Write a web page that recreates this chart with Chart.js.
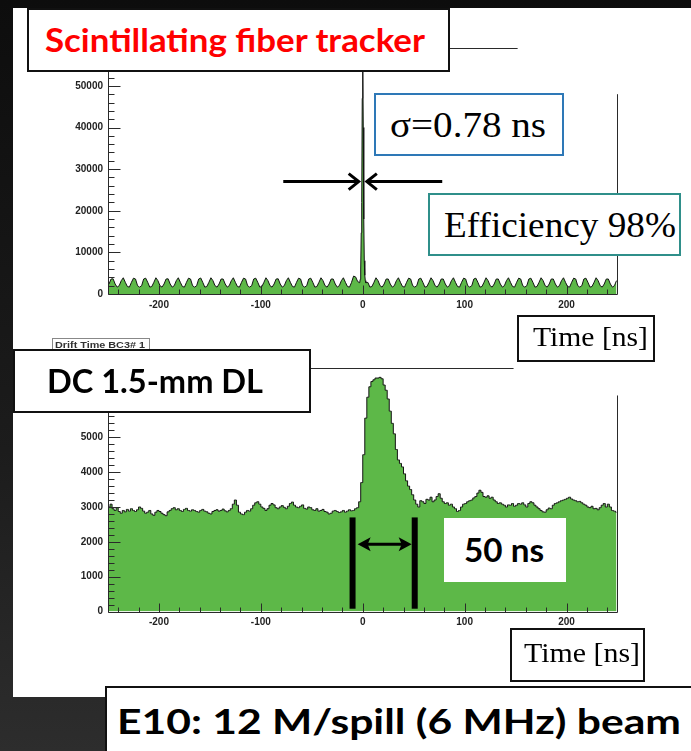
<!DOCTYPE html>
<html>
<head>
<meta charset="utf-8">
<script src="https://cdn.jsdelivr.net/npm/chart.js@4.4.1/dist/chart.umd.min.js"></script>
<style>
  html, body { margin: 0; padding: 0; }
  body {
    width: 691px; height: 751px; position: relative; overflow: hidden;
    background: linear-gradient(#0d0d0d 0%, #1c1c1c 60%, #2d2d2d 100%);
    font-family: 'Liberation Sans', sans-serif;
  }
  #panel { position: absolute; left: 13px; top: 8px; width: 678px; height: 689px; background: #fff; }
  canvas { position: absolute; }
  .box { position: absolute; background: #fff; box-sizing: border-box; }
  .txt { position: absolute; white-space: nowrap; transform-origin: 0 50%; }
</style>
</head>
<body>
<div id="panel"></div>
<canvas id="fiber" width="610" height="300" style="left:30px;top:30px;width:610px;height:300px"></canvas>
<canvas id="dc" width="610" height="300" style="left:30px;top:350px;width:610px;height:300px"></canvas>

<script>
// ---- Scintillating fiber tracker: time spectrum, 2 ns bins, first bin centre -249 ns ----
const BIN_START = -249;
const BIN_WIDTH = 2;
const fiberCounts = [
  2400,3600,3650,2400,1650,2000,3200,3900,2800,1800,
  1650,2800,3800,3600,2000,1650,2000,3600,3800,2800,
  1650,1800,2800,3900,3200,2000,1650,2400,3600,3650,
  2400,1650,2000,3200,3900,2800,1800,1650,2800,3800,
  3600,2000,1650,2000,3600,3850,2800,1650,1800,2800,
  3900,3200,2000,1650,2400,3600,3600,2400,1650,2000,
  3200,3900,2800,1800,1650,2800,3800,3600,2000,1650,
  2000,3600,3800,2800,1650,1800,2800,3900,3200,2000,
  1650,2400,3600,3650,2400,1650,2000,3200,3900,2800,
  1800,1650,2800,3800,3600,2000,1650,2000,3600,3800,
  2800,1650,1800,2800,3900,3200,2000,1650,2400,3600,
  3600,2400,1650,2000,3200,3900,2800,1800,1650,2800,
  4300,4100,3000,null,null,null,null,2800,1650,1800,   // -3..3 ns: see fine bins below
  2800,3900,3200,2000,1650,2400,3600,3600,2400,1650,
  2000,3200,3900,2800,1800,1650,2800,3800,3600,2000,
  1650,2000,3600,3800,2800,1650,1800,2800,3900,3200,
  2000,1650,2400,3600,3600,2400,1650,2000,3200,3900,
  2800,1800,1650,2800,3800,3600,2000,1650,2000,3600,
  3800,2800,1650,1800,2800,3900,3200,2000,1650,2400,
  3600,3600,2400,1650,2000,3200,3900,2800,1800,1650,
  2800,3800,3600,2000,1650,2000,3600,3800,2800,1650,
  1800,2800,3900,3200,2000,1650,2400,3600,3600,2400,
  1650,2000,3200,3900,2800,1800,1650,2800,3800,3600,
  2000,1650,2000,3600,3800,2800,1650,1800,2800,3900,
  3200,2000,1650,2400,3600,3600,2400,1650,2000,3200
];
// prompt peak around t = 0 in 0.5 ns bins
const fiberPeakTimes  = [-3, -2.5, -2, -1.5, -1, -0.5, 0, 0.5, 1, 1.5, 2, 2.5, 3];
const fiberPeakCounts = [2700, 3500, 6000, 14700, 22000, 47000, 56000, 40000, 18000, 8000, 4500, 3200, 2700];

// ---- DC 1.5-mm drift length: drift time, 2 ns bins ----
const dcCounts = [
  3000,3080,2950,2900,2980,2870,2820,2900,2860,2930,
  2880,2950,2900,2870,2920,3000,2960,2880,2820,2850,
  2900,2800,2760,2850,2900,2870,2820,2780,2750,2860,
  2900,2950,2980,2920,2950,2900,2870,2930,2960,2900,
  2880,2920,2900,2870,2850,2900,2930,2880,2860,2820,
  2800,2870,2900,2920,2880,2900,2940,2890,2860,2900,
  2950,3080,3200,3050,2850,2800,2780,2850,2900,2880,
  2950,3050,3120,3150,3080,3000,2960,2900,2950,3050,
  3100,3060,2980,2950,3000,3040,2990,2950,3020,3100,
  3140,3050,3000,2980,3020,3060,2960,2940,3000,2980,
  2920,2900,2950,2880,2900,2930,2870,2850,2800,2820,
  2880,2900,2870,2840,2860,2900,2850,2880,2920,2890,
  2900,2950,2980,3150,3700,4500,5550,6150,6450,6600,
  6650,6700,6700,6720,6680,6500,6350,6100,5750,5400,
  5100,4650,4350,4250,4150,3950,3750,3600,3500,3350,
  3200,3080,3000,3180,3150,3100,3220,3200,3280,3150,
  3200,3300,3380,3250,3150,3100,3120,3050,3080,3000,
  2950,2870,2900,3000,3080,3100,3150,3180,3200,3260,
  3300,3400,3480,3420,3300,3280,3320,3250,3280,3200,
  3150,3100,3120,3080,3050,3000,3060,3050,3100,3020,
  3050,3100,3080,3120,3060,3000,3100,3150,3120,3050,
  3000,2950,2900,2860,2850,2920,2970,2950,3050,3100,
  3120,3150,3180,3200,3220,3250,3280,3230,3200,3180,
  3150,3160,3120,3080,3050,3000,2980,3020,2950,2960,
  2920,2980,3050,3100,3000,3080,3000,2900,2880,2850
];

// axis labels
const timeTicks = [-200, -100, 0, 100, 200];
const fiberYTicks = [0, 10000, 20000, 30000, 40000, 50000];
const dcYTicks = [0, 1000, 2000, 3000, 4000, 5000];

const GREEN = '#5db848';
const OUTLINE = '#141414';
const AXIS = '#2a2a2a';

function toPoints(counts) {
  const pts = [];
  counts.forEach((c, i) => { if (c !== null) pts.push({ x: BIN_START + i * BIN_WIDTH, y: c }); });
  return pts;
}
const fiberPoints = toPoints(fiberCounts)
  .concat(fiberPeakTimes.map((t, i) => ({ x: t, y: fiberPeakCounts[i] })))
  .sort((a, b) => a.x - b.x);
const dcPoints = toPoints(dcCounts);

// ROOT-like axes: inward major/minor ticks, partial frame, annotation arrows and bars
const rootAxes = {
  id: 'rootAxes',
  afterDatasetsDraw(chart, args, o) {
    const { ctx, chartArea: a, scales: { x, y } } = chart;
    const seg = (x1, y1, x2, y2) => { ctx.beginPath(); ctx.moveTo(x1, y1); ctx.lineTo(x2, y2); ctx.stroke(); };
    ctx.save();
    ctx.strokeStyle = AXIS; ctx.lineWidth = 1;
    const L = Math.round(a.left) + 0.5, B = Math.round(a.bottom) + 0.5;
    seg(L, a.top, L, B);
    seg(L, B, a.right, B);
    // visible parts of the frame
    const T = Math.round(a.top) + 0.5, R = Math.round(a.right) - 0.5;
    seg(L, T, x.getPixelForValue(o.topTo), T);
    seg(R, y.getPixelForValue(o.rightFrom), R, B);
    // y ticks
    for (let v = 0; v <= y.max; v += o.yMinor) {
      const p = Math.round(y.getPixelForValue(v)) + 0.5;
      const major = v % o.yMajor === 0;
      seg(L, p, L + (major ? 12 : 6), p);
    }
    // x ticks
    for (let v = -240; v <= 240; v += 20) {
      const p = Math.round(x.getPixelForValue(v)) + 0.5;
      const major = v % 100 === 0;
      seg(p, B, p, B - (major ? 9 : 5));
    }
    ctx.strokeStyle = '#000'; ctx.fillStyle = '#000';
    // thick gate bars
    (o.bars || []).forEach(b => {
      ctx.lineWidth = 6;
      const px = x.getPixelForValue(b.t);
      seg(px, y.getPixelForValue(b.from), px, y.getPixelForValue(b.to));
    });
    // arrows
    (o.arrows || []).forEach(ar => {
      const x1 = x.getPixelForValue(ar.from), x2 = x.getPixelForValue(ar.to), py = y.getPixelForValue(ar.y);
      const dir = Math.sign(x2 - x1);
      ctx.lineWidth = 3; ctx.lineCap = 'butt'; ctx.lineJoin = 'miter';
      if (ar.style === 'open') {
        seg(x1, py, x2 - dir * 2, py);
        ctx.beginPath();
        ctx.moveTo(x2 - dir * 10, py - 8); ctx.lineTo(x2, py); ctx.lineTo(x2 - dir * 10, py + 8);
        ctx.stroke();
      } else {
        seg(x1 + dir * 8, py, x2 - dir * 8, py);
        [[x1, -dir], [x2, dir]].forEach(([tx, d]) => {
          ctx.beginPath();
          ctx.moveTo(tx, py); ctx.lineTo(tx - d * 13, py - 7); ctx.lineTo(tx - d * 10, py);
          ctx.lineTo(tx - d * 13, py + 7); ctx.closePath(); ctx.fill();
        });
      }
    });
    ctx.restore();
  }
};

function histChart(id, points, yMax, yTicks, pad, xHeight, extra, stepped) {
  const tickFont = { family: 'Liberation Sans', weight: 'bold', size: 10 };
  return new Chart(document.getElementById(id), {
    type: 'line',
    data: { datasets: [{
      data: points, borderColor: OUTLINE, borderWidth: 1, backgroundColor: GREEN,
      fill: 'origin', pointRadius: 0, tension: 0, stepped: stepped
    }] },
    options: {
      animation: false, responsive: false, maintainAspectRatio: false,
      layout: { padding: pad },
      plugins: { legend: { display: false }, tooltip: { enabled: false }, rootAxes: extra },
      scales: {
        x: {
          type: 'linear', min: -250, max: 250,
          grid: { display: false, drawTicks: false }, border: { display: false },
          afterBuildTicks: s => { s.ticks = timeTicks.map(v => ({ value: v })); },
          afterFit: s => { s.height = xHeight; },
          ticks: { font: tickFont, color: '#222', padding: 5, maxRotation: 0, autoSkip: false,
                   callback: v => String(v) }
        },
        y: {
          min: 0, max: yMax,
          grid: { display: false, drawTicks: false }, border: { display: false },
          afterBuildTicks: s => { s.ticks = yTicks.map(v => ({ value: v })); },
          afterFit: s => { s.width = 78; },
          ticks: { font: tickFont, color: '#222', padding: 5, callback: v => String(v) }
        }
      }
    },
    plugins: [rootAxes]
  });
}

histChart('fiber', fiberPoints, 59100, fiberYTicks,
  { top: 18, right: 22.5, left: 0, bottom: 0 }, 36,
  { yMajor: 10000, yMinor: 2000, topTo: 152, rightFrom: 48000,
    arrows: [ { from: -78, to: -4, y: 27000, style: 'open' },
              { from: 78, to: 4, y: 27000, style: 'open' } ] }, false);

histChart('dc', dcPoints, 7000, dcYTicks,
  { top: 17.6, right: 22.5, left: 0, bottom: 0 }, 38.5,
  { yMajor: 1000, yMinor: 200, topTo: 148, rightFrom: 6200,
    bars: [ { t: -10, from: 80, to: 2700 }, { t: 51, from: 80, to: 2700 } ],
    arrows: [ { from: -5, to: 48, y: 1930, style: 'double' } ] }, 'middle');

// ---- text boxes ----
function box(x, y, w, h, border) {
  const d = document.createElement('div');
  d.className = 'box';
  Object.assign(d.style, { left: x + 'px', top: y + 'px', width: w + 'px', height: h + 'px', border: border || 'none' });
  document.body.appendChild(d);
  return d;
}
function text(str, x, cy, w, font, color) {
  const d = document.createElement('div');
  d.className = 'txt';
  d.textContent = str;
  d.style.font = font;               // shorthand first, it resets line-height
  Object.assign(d.style, { left: x + 'px', top: (cy - 30) + 'px', height: '60px', lineHeight: '60px', color: color || '#000' });
  document.body.appendChild(d);
  const natural = d.getBoundingClientRect().width;
  d.style.transform = 'scaleX(' + (w / natural) + ')';
  return d;
}
box(52, 338, 98, 16, '1px solid #888');
text('Drift Time BC3# 1', 55, 345, 90, 'bold 9px "Liberation Sans"', '#333');

box(27, 8, 423, 64, '2px solid #111');
text('Scintillating fiber tracker', 45, 40, 380, 'bold 32px Lato', '#ff0000');

box(374, 93, 190, 63, '2px solid #2e78b7');
text('σ=0.78 ns', 390, 125, 156, '36px "Liberation Serif"');

box(428, 193, 253, 63, '2px solid #2f8f8a');
text('Efficiency 98%', 444, 225, 232, '36px "Liberation Serif"');

box(517, 315, 138, 47, '2px solid #111');
text('Time [ns]', 533, 337, 115, '27px "Liberation Serif"');

box(13, 349, 298, 64, '2px solid #111');
text('DC 1.5-mm DL', 47, 381, 216, 'bold 32px Lato');

box(444, 518, 122, 64);
text('50 ns', 464, 550, 80, 'bold 32px Lato');

box(510, 628, 135, 54, '2px solid #111');
text('Time [ns]', 524, 653, 116, '27px "Liberation Serif"');

const beam = box(105, 686, 600, 80);
beam.style.borderTop = '2px solid #111';
beam.style.borderLeft = '2px solid #111';
text('E10: 12 M/spill (6 MHz) beam', 117, 721, 564, 'bold 34px Lato');
</script>
</body>
</html>
